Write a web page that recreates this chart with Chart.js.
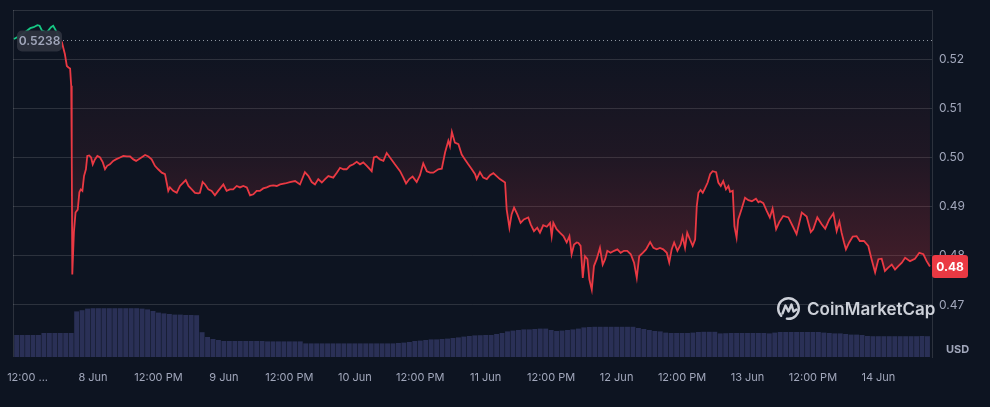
<!DOCTYPE html>
<html>
<head>
<meta charset="utf-8">
<script src="https://cdn.jsdelivr.net/npm/chart.js@4.4.1/dist/chart.umd.min.js"></script>
<style>
  html, body { margin: 0; padding: 0; background: #0d1421; }
  #wrap { width: 990px; height: 407px; }
</style>
</head>
<body>
<div id="wrap"><canvas id="chart" width="990" height="407"></canvas></div>
<script>
// Price: hours since 7 Jun 00:00 and USD price
const priceHours = [
  9.5, 11.0, 12.5, 13.1, 13.8, 14.2, 14.65, 15.5, 16.3, 16.7, 17.2, 17.95,
  18.3, 18.85, 19.2, 19.5, 19.8, 20.0, 20.1, 20.2, 20.5, 20.8, 21.2, 21.5, 21.75, 22.05, 22.35, 22.7, 22.95, 23.3, 23.65, 23.95,
  24.35, 24.8, 25.3, 25.8, 26.2, 26.6, 27.1, 27.7, 28.2, 28.95, 29.55, 30.2, 30.8, 31.4, 31.9, 32.6, 33.55, 34.15, 34.75, 35.35, 35.95,
  36.6, 37.2, 37.5, 37.8, 38.1, 38.7, 39.35, 39.95, 40.55, 41.0, 41.5, 42.1, 42.7, 43.3, 43.6, 44.1, 44.55, 45.15, 45.75, 46.35, 46.95, 47.9,
  48.5, 49.1, 49.7, 50.35, 50.95, 51.55, 52.2, 52.8, 53.4, 54.0, 54.6, 55.2, 55.85, 56.45, 57.05, 57.7, 58.3, 59.2, 60.1, 61.05, 61.95,
  62.85, 63.5, 64.1, 64.7, 65.3, 65.95, 66.55, 67.15, 68.05, 68.7, 69.3, 69.9, 70.5, 71.1, 71.75, 72.35, 72.95, 73.55, 74.2, 75.1, 75.5,
  76.0, 76.6, 77.25, 77.85, 78.45, 79.35, 80.3, 80.9, 81.4, 82.0, 82.6, 83.35, 83.95, 84.55, 85.2, 85.8, 86.4, 87.3, 87.95, 88.55, 89.15,
  89.45, 89.8, 90.35, 91.0, 91.6, 92.2, 92.8, 93.45, 94.05, 94.35, 94.95, 95.55, 96.2, 96.8, 97.4, 98.0, 98.6, 99.55, 99.85, 100.35,
  100.75, 101.2, 101.8, 102.4, 103.0, 103.8, 104.25, 104.85, 105.45, 105.95, 106.55, 107.2, 107.8, 108.1, 108.4, 109.0, 109.6, 110.25,
  110.85, 111.35, 111.75, 112.2, 112.7, 113.0, 113.4, 113.8, 114.2, 114.65, 115.0, 115.45, 115.85, 116.35, 116.95, 117.45, 117.9, 118.3,
  118.9, 119.55, 120.15, 120.75, 121.35, 121.95, 122.6, 123.2, 123.7, 124.15, 124.8, 125.4, 126.15, 126.75, 127.35, 127.95, 128.55,
  129.2, 129.65, 130.1, 130.55, 131.15, 131.75, 132.1, 132.55, 132.95, 133.45, 133.95, 134.4, 134.7, 135.0, 135.4, 135.8, 136.2, 136.7,
  137.15, 137.6, 138.25, 138.65, 139.1, 139.55, 140.05, 140.5, 140.8, 141.3, 141.6, 142.0, 142.3, 142.95, 143.55, 144.15, 144.8, 145.55,
  146.0, 146.3, 146.9, 147.5, 148.1, 148.6, 149.25, 149.85, 150.55, 151.5, 152.3, 153.0, 153.95, 154.85, 155.6, 156.05, 156.8, 157.6,
  158.25, 159.0, 159.75, 160.35, 160.85, 161.25, 161.7, 162.05, 162.65, 163.3, 164.0, 164.6, 165.35, 166.15, 166.75, 167.4, 168.0,
  168.6, 169.2, 169.8, 170.45, 171.05, 171.65, 172.3, 172.9, 173.8, 174.7, 175.5, 176.25, 176.85, 177.45
];
const priceValues = [
  0.5241, 0.5250, 0.5263, 0.5265, 0.5269, 0.5268, 0.5258, 0.5254, 0.5265, 0.5268, 0.5258, 0.5241,
  0.5234, 0.5210, 0.5186, 0.5183, 0.5181, 0.5146, 0.5011, 0.4762, 0.4848, 0.4888, 0.4894, 0.4929, 0.4935, 0.4932, 0.4962, 0.4976, 0.5003, 0.5004, 0.5000, 0.4986,
  0.4996, 0.5003, 0.5000, 0.4990, 0.4976, 0.4983, 0.4986, 0.4993, 0.4996, 0.5000, 0.5003, 0.5002, 0.5002, 0.4996, 0.4993, 0.4998, 0.5005, 0.5002, 0.4996, 0.4983, 0.4976,
  0.4969, 0.4966, 0.4949, 0.4932, 0.4939, 0.4932, 0.4928, 0.4942, 0.4949, 0.4954, 0.4942, 0.4935, 0.4928, 0.4927, 0.4928, 0.4950, 0.4945, 0.4935, 0.4932, 0.4923, 0.4932, 0.4945,
  0.4932, 0.4935, 0.4935, 0.4942, 0.4939, 0.4942, 0.4939, 0.4923, 0.4925, 0.4932, 0.4932, 0.4937, 0.4939, 0.4942, 0.4943, 0.4942, 0.4945, 0.4947, 0.4950, 0.4952, 0.4945,
  0.4970, 0.4962, 0.4950, 0.4945, 0.4956, 0.4949, 0.4956, 0.4962, 0.4959, 0.4969, 0.4979, 0.4976, 0.4976, 0.4983, 0.4986, 0.4991, 0.4986, 0.4990, 0.4983, 0.4972, 0.5000,
  0.5002, 0.4996, 0.4993, 0.5009, 0.5000, 0.4986, 0.4972, 0.4959, 0.4947, 0.4956, 0.4961, 0.4950, 0.4964, 0.4988, 0.4972, 0.4969, 0.4969, 0.4976, 0.4977, 0.5010, 0.5034,
  0.5023, 0.5052, 0.5030, 0.5027, 0.5006, 0.4996, 0.4986, 0.4976, 0.4966, 0.4956, 0.4970, 0.4959, 0.4956, 0.4964, 0.4968, 0.4962, 0.4956, 0.4949, 0.4894, 0.4857,
  0.4884, 0.4898, 0.4884, 0.4867, 0.4874, 0.4878, 0.4864, 0.4850, 0.4857, 0.4847, 0.4862, 0.4859, 0.4867, 0.4840, 0.4867, 0.4854, 0.4847, 0.4840,
  0.4827, 0.4840, 0.4803, 0.4823, 0.4827, 0.4826, 0.4820, 0.4755, 0.4799, 0.4793, 0.4752, 0.4731, 0.4779, 0.4793, 0.4816, 0.4782, 0.4793, 0.4810,
  0.4806, 0.4810, 0.4813, 0.4806, 0.4810, 0.4810, 0.4803, 0.4786, 0.4755, 0.4799, 0.4806, 0.4813, 0.4828, 0.4816, 0.4813, 0.4816, 0.4813,
  0.4806, 0.4786, 0.4813, 0.4827, 0.4810, 0.4823, 0.4839, 0.4816, 0.4847, 0.4833, 0.4820, 0.4833, 0.4901, 0.4928, 0.4934, 0.4928, 0.4937, 0.4949,
  0.4966, 0.4972, 0.4970, 0.4949, 0.4942, 0.4952, 0.4935, 0.4942, 0.4930, 0.4932, 0.4860, 0.4837, 0.4874, 0.4896, 0.4918, 0.4913, 0.4911, 0.4916,
  0.4909, 0.4911, 0.4907, 0.4892, 0.4878, 0.4896, 0.4854, 0.4869, 0.4881, 0.4878, 0.4860, 0.4844, 0.4888, 0.4880, 0.4848, 0.4854, 0.4878, 0.4864,
  0.4855, 0.4874, 0.4886, 0.4850, 0.4869, 0.4847, 0.4827, 0.4813, 0.4827, 0.4839, 0.4840, 0.4830, 0.4830, 0.4820, 0.4793, 0.4766, 0.4793,
  0.4794, 0.4769, 0.4776, 0.4782, 0.4772, 0.4779, 0.4786, 0.4796, 0.4789, 0.4794, 0.4806, 0.4803, 0.4789, 0.4778
];

// Hourly volume (million USD), first bar at 7 Jun 10:00
const volumeStartHour = 10;
const volumeValues = [
  5.5, 5.5, 5.5, 5.5, 5.5, 6.0, 6.0, 6.0, 6.0, 6.0, 6.0, 11.4, 11.7, 12.1,
  12.2, 12.2, 12.2, 12.2, 12.2, 12.2, 12.2, 12.2, 12.2, 12.1, 11.9, 11.5, 11.1, 10.9, 10.75, 10.6, 10.6, 10.5, 10.5, 10.45, 6.2, 5.0, 4.5, 4.25,
  4.0, 4.0, 4.0, 4.0, 4.0, 4.0, 4.0, 4.0, 3.9, 3.9, 3.9, 3.9, 3.9, 3.9, 3.9, 3.4, 3.4, 3.4, 3.4, 3.4, 3.4, 3.4, 3.4, 3.4,
  3.4, 3.4, 3.4, 3.4, 3.4, 3.4, 3.4, 3.4, 3.5, 3.6, 3.75, 4.0, 4.1, 4.25, 4.4, 4.4, 4.5, 4.6, 4.75, 4.9, 5.1, 5.25, 5.4, 5.45,
  5.5, 5.5, 5.75, 6.0, 6.4, 6.6, 6.75, 6.9, 6.9, 7.0, 7.1, 7.1, 6.75, 6.5, 6.6, 6.75, 6.9, 7.1, 7.4, 7.5,
  7.55, 7.55, 7.55, 7.55, 7.55, 7.55, 7.55, 7.55, 7.25, 7.0, 6.75, 6.5, 6.4, 6.1, 6.0, 6.0, 6.0, 6.0, 6.1, 6.25, 6.3, 6.3, 6.3, 5.9,
  5.95, 6.0, 6.0, 6.0, 6.0, 6.0, 6.0, 6.0, 5.9, 6.1, 6.25, 6.25, 6.25, 6.25, 6.25, 6.25, 6.25, 6.25, 6.1, 6.0, 5.9, 5.9, 5.75, 5.6,
  5.6, 5.5, 5.25, 5.2, 5.2, 5.2, 5.2, 5.2, 5.2, 5.2, 5.2, 5.2, 5.25, 5.2
];

const openPrice = 0.5238;
const tickHours = [12, 24, 36, 48, 60, 72, 84, 96, 108, 120, 132, 144, 156, 168];
const tickLabels = ['12:00 ...', '8 Jun', '12:00 PM', '9 Jun', '12:00 PM', '10 Jun', '12:00 PM',
                    '11 Jun', '12:00 PM', '12 Jun', '12:00 PM', '13 Jun', '12:00 PM', '14 Jun'];
const priceTicks = [0.47, 0.48, 0.49, 0.50, 0.51, 0.52, 0.53];

const RED = '#ea3943';
const GREEN = '#16c784';
const GRID = 'rgba(255,255,255,0.13)';
const LABEL = '#a1a7bb';

const pricePoints = priceHours.map((h, i) => ({ x: h, y: priceValues[i] }));
const volumePoints = volumeValues.map((v, i) => ({ x: volumeStartHour + i, y: v }));

function redFill(context) {
    const chart = context.chart;
    if (!chart.chartArea) return 'transparent';
    const ys = chart.scales.y;
    const g = chart.ctx.createLinearGradient(0, ys.getPixelForValue(openPrice), 0, ys.getPixelForValue(Math.min(...priceValues)));
    g.addColorStop(0, 'rgba(234,57,67,0.0)');
    g.addColorStop(0.45, 'rgba(234,57,67,0.08)');
    g.addColorStop(1, 'rgba(234,57,67,0.27)');
    return g;
}

function roundRect(ctx, x, y, w, h, r) {
    ctx.beginPath();
    ctx.moveTo(x + r, y);
    ctx.arcTo(x + w, y, x + w, y + h, r);
    ctx.arcTo(x + w, y + h, x, y + h, r);
    ctx.arcTo(x, y + h, x, y, r);
    ctx.arcTo(x, y, x + w, y, r);
    ctx.closePath();
}

const overlay = {
    id: 'overlay',
    beforeDraw(chart) {
        const ctx = chart.ctx;
        ctx.save();
        ctx.fillStyle = '#0d1421';
        ctx.fillRect(0, 0, chart.width, chart.height);
        ctx.restore();
    },
    beforeDatasetsDraw(chart) {
        const { ctx, chartArea } = chart;
        ctx.save();
        ctx.strokeStyle = GRID;
        ctx.lineWidth = 1;
        ctx.beginPath();
        ctx.moveTo(chartArea.left + 0.5, chartArea.top);
        ctx.lineTo(chartArea.left + 0.5, chartArea.bottom);
        ctx.stroke();
        ctx.restore();
    },
    afterDatasetsDraw(chart) {
        const { ctx, chartArea } = chart;
        const ys = chart.scales.y;
        const yOpen = Math.round(ys.getPixelForValue(openPrice)) + 0.5;
        ctx.save();

        // dotted open-price line
        ctx.strokeStyle = 'rgba(200,205,215,0.7)';
        ctx.setLineDash([1, 3]);
        ctx.beginPath();
        ctx.moveTo(chartArea.left + 50, yOpen);
        ctx.lineTo(chartArea.right, yOpen);
        ctx.stroke();
        ctx.setLineDash([]);

        // open-price badge
        ctx.font = '600 12px Inter';
        ctx.fillStyle = 'rgba(45,50,62,0.95)';
        roundRect(ctx, chartArea.left + 4, yOpen - 10, 45, 21, 5);
        ctx.fill();
        ctx.fillStyle = LABEL;
        ctx.textAlign = 'center';
        ctx.textBaseline = 'middle';
        ctx.fillText(openPrice.toFixed(4), chartArea.left + 26.5, yOpen + 1);

        // last-price badge
        const last = priceValues[priceValues.length - 1];
        const yLast = ys.getPixelForValue(last);
        ctx.fillStyle = RED;
        roundRect(ctx, chartArea.right, yLast - 11.5, 36, 23, 3);
        ctx.fill();
        ctx.fillStyle = '#ffffff';
        ctx.font = 'bold 12px Inter';
        ctx.fillText(last.toFixed(2), chartArea.right + 18, yLast + 0.5);

        // USD unit
        ctx.fillStyle = LABEL;
        ctx.font = 'bold 11px Inter';
        ctx.textAlign = 'left';
        ctx.fillText('USD', chartArea.right + 14, chartArea.bottom - 7);

        // watermark
        const cx = 788.5, cy = 308.5;
        ctx.strokeStyle = 'rgba(225,228,236,0.9)';
        ctx.lineWidth = 2.4;
        ctx.lineCap = 'round';
        ctx.lineJoin = 'round';
        ctx.beginPath();
        ctx.arc(cx, cy, 10.3, 0.75 * Math.PI, 2.55 * Math.PI);
        ctx.stroke();
        ctx.beginPath();
        ctx.moveTo(cx - 6, cy + 5);
        ctx.lineTo(cx - 3, cy - 3);
        ctx.lineTo(cx, cy + 3);
        ctx.lineTo(cx + 3, cy - 4);
        ctx.lineTo(cx + 5, cy + 3);
        ctx.lineTo(cx + 8, cy + 1);
        ctx.stroke();
        ctx.fillStyle = 'rgba(225,228,236,0.9)';
        ctx.font = '600 17px Inter';
        ctx.textAlign = 'left';
        ctx.fillText('CoinMarketCap', 807, cy + 1);
        ctx.restore();
    }
};

new Chart(document.getElementById('chart'), {
    type: 'line',
    data: {
        datasets: [
            {
                type: 'line',
                data: pricePoints,
                yAxisID: 'y',
                borderColor: RED,
                borderWidth: 1.8,
                pointRadius: 0,
                tension: 0,
                fill: { value: openPrice },
                backgroundColor: redFill,
                segment: {
                    borderColor: c => (c.p0.parsed.y > openPrice && c.p1.parsed.y > openPrice) ? GREEN : RED
                },
                order: 1
            },
            {
                type: 'bar',
                data: volumePoints,
                yAxisID: 'vol',
                backgroundColor: '#2a3056',
                borderWidth: 0,
                barPercentage: 0.9,
                categoryPercentage: 1,
                order: 2
            }
        ]
    },
    options: {
        responsive: false,
        animation: false,
        layout: { padding: { left: 13, top: 10, right: 0, bottom: 0 } },
        plugins: {
            legend: { display: false },
            tooltip: { enabled: false }
        },
        scales: {
            x: {
                type: 'linear',
                min: 9.33,
                max: 177.83,
                offset: false,
                afterBuildTicks: scale => { scale.ticks = tickHours.map(v => ({ value: v })); },
                afterFit: scale => {
                    scale.height = 50;
                    scale.paddingLeft = 0;
                    scale.paddingRight = 0;
                },
                grid: { display: false, drawTicks: false },
                border: { display: false },
                ticks: {
                    padding: 14,
                    color: LABEL,
                    font: { family: 'Inter', size: 11 },
                    maxRotation: 0,
                    autoSkip: false,
                    callback: v => tickLabels[tickHours.indexOf(v)]
                }
            },
            y: {
                position: 'right',
                min: 0.4594,
                max: 0.53,
                afterBuildTicks: scale => { scale.ticks = priceTicks.map(v => ({ value: v })); },
                afterFit: scale => {
                    scale.width = 58;
                    scale.paddingTop = 0;
                    scale.paddingBottom = 0;
                },
                grid: { color: GRID, drawTicks: false },
                border: { display: true, color: GRID },
                ticks: {
                    padding: 7,
                    color: LABEL,
                    font: { family: 'Inter', size: 12 },
                    callback: v => (v >= 0.525 ? '' : v.toFixed(2))
                }
            },
            vol: {
                display: false,
                min: 0,
                max: 86.75
            }
        }
    },
    plugins: [overlay]
});
</script>
</body>
</html>
